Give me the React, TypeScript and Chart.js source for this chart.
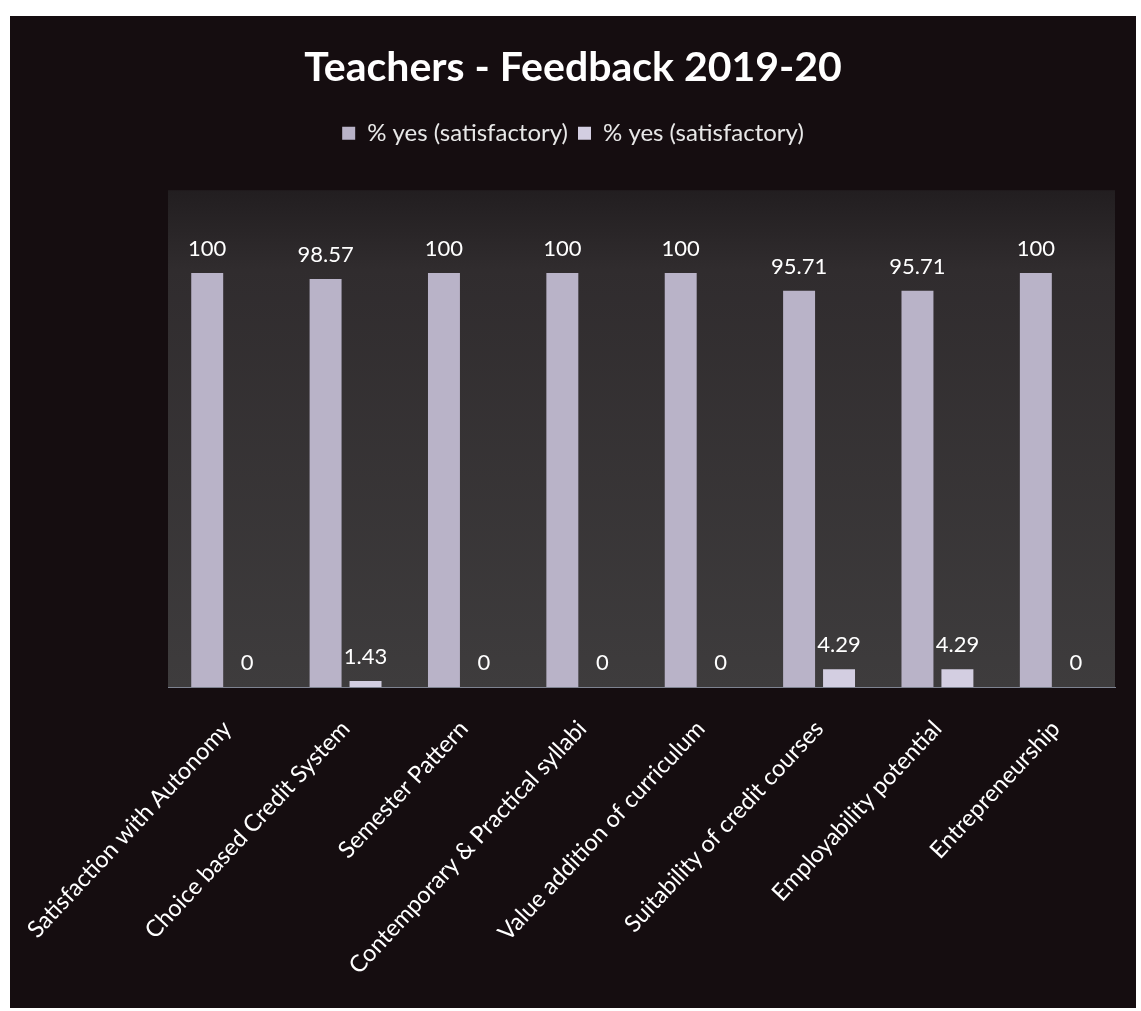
import React, { useEffect, useRef } from 'react';
import { Chart, registerables, layouts } from 'chart.js';

Chart.register(...registerables);

const categories = [
  'Satisfaction with Autonomy',
  'Choice based Credit System',
  'Semester Pattern',
  'Contemporary & Practical syllabi',
  'Value addition of curriculum',
  'Suitability of credit courses',
  'Employability potential',
  'Entrepreneurship',
];
const seriesNames = ['% yes (satisfactory)', '% yes (satisfactory)'];
const yesValues = [100, 98.57, 100, 100, 100, 95.71, 95.71, 100];
const otherValues = [0, 1.43, 0, 0, 0, 4.29, 4.29, 0];

const FONT = 'Lato, "Open Sans", "DejaVu Sans", sans-serif';

const plotBackground = {
  id: 'plotBackground',
  beforeDraw(chart: any) {
    const { ctx, chartArea: a } = chart;
    const g = ctx.createLinearGradient(0, a.top, 0, a.bottom);
    g.addColorStop(0, '#221e20');
    g.addColorStop(0.16, '#302c2e');
    g.addColorStop(1, '#3e3c3d');
    ctx.save();
    ctx.fillStyle = g;
    ctx.fillRect(a.left, a.top, a.right - a.left, a.bottom - a.top);
    ctx.restore();
  },
};

const legendGap = {
  id: 'legendGap',
  beforeInit(chart: any) {
    const box: any = {
      position: 'top',
      weight: 500,
      fullSize: true,
      options: { stackWeight: 1 },
      top: 0,
      left: 0,
      right: 0,
      bottom: 0,
      width: 0,
      height: 0,
      isHorizontal: () => true,
      update(maxWidth: number) {
        box.width = maxWidth;
        box.height = 35;
        box.right = box.left + maxWidth;
      },
      draw() {},
    };
    layouts.addBox(chart, box);
  },
};

const valueLabels = {
  id: 'valueLabels',
  afterDatasetsDraw(chart: any) {
    const { ctx } = chart;
    ctx.save();
    ctx.font = `22px ${FONT}`;
    ctx.fillStyle = '#ffffff';
    ctx.textAlign = 'center';
    ctx.textBaseline = 'middle';
    chart.data.datasets.forEach((ds: any, i: number) => {
      const meta = chart.getDatasetMeta(i);
      meta.data.forEach((el: any, j: number) => {
        ctx.fillText(String(ds.data[j]), el.x, el.y - 24);
      });
    });
    ctx.restore();
  },
};

export default function App() {
  const ref = useRef<HTMLCanvasElement>(null);

  useEffect(() => {
    if (!ref.current) return;
    const chart = new Chart(ref.current, {
      type: 'bar',
      data: {
        labels: categories,
        datasets: [
          {
            label: seriesNames[0],
            data: yesValues,
            backgroundColor: '#b9b3c8',
            borderWidth: 0,
            categoryPercentage: 0.675,
            barPercentage: 0.8,
          },
          {
            label: seriesNames[1],
            data: otherValues,
            backgroundColor: '#d3cee1',
            borderWidth: 0,
            categoryPercentage: 0.675,
            barPercentage: 0.8,
          },
        ],
      },
      options: {
        responsive: false,
        animation: false,
        devicePixelRatio: 1,
        layout: { padding: 0 },
        plugins: {
          title: {
            display: true,
            text: 'Teachers - Feedback 2019-20',
            color: '#ffffff',
            font: { family: FONT, size: 41, weight: 'bold' },
            padding: { top: 27, bottom: 19 },
          },
          legend: {
            display: true,
            position: 'top',
            labels: {
              color: '#e8e8e8',
              font: { family: FONT, size: 24 },
              boxWidth: 13,
              boxHeight: 13,
              padding: 10,
            },
          },
          tooltip: { enabled: false },
        },
        scales: {
          x: {
            grid: { display: false },
            border: { display: true, color: '#7d8290', width: 1 },
            ticks: {
              color: '#ffffff',
              font: { family: FONT, size: 23.5 },
              minRotation: 47,
              maxRotation: 47,
              autoSkip: false,
              padding: 20,
            },
            afterFit(scale: any) {
              scale.height = 321;
              scale.paddingLeft = 0;
              scale.paddingRight = 0;
            },
          },
          y: {
            display: true,
            position: 'left',
            min: 0,
            max: 120,
            grid: { display: false },
            border: { display: false },
            ticks: { display: false },
            afterFit(scale: any) {
              scale.width = 158;
            },
          },
          yRight: {
            display: true,
            position: 'right',
            min: 0,
            max: 120,
            grid: { display: false },
            border: { display: false },
            ticks: { display: false },
            afterFit(scale: any) {
              scale.width = 21;
            },
          },
        },
      },
      plugins: [plotBackground, legendGap, valueLabels],
    });
    return () => chart.destroy();
  }, []);

  return (
    <div
      style={{
        position: 'absolute',
        left: 0,
        top: 0,
        width: 1141,
        height: 1011,
        background: '#ffffff',
        overflow: 'hidden',
      }}
    >
      <div
        style={{
          position: 'absolute',
          left: 10,
          top: 16,
          width: 1126,
          height: 992,
          background: '#150d10',
        }}
      >
        <canvas ref={ref} width={1126} height={992} style={{ display: 'block' }} />
      </div>
    </div>
  );
}
